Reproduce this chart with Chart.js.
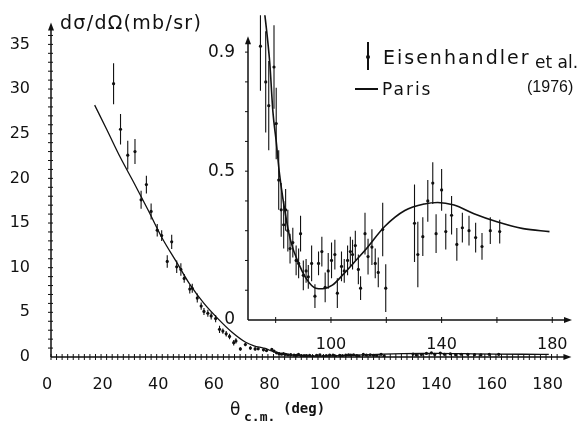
<!DOCTYPE html>
<html>
<head>
<meta charset="utf-8">
<script src="https://cdn.jsdelivr.net/npm/chart.js@4.4.1/dist/chart.umd.min.js"></script>
<style>
  html, body { margin: 0; padding: 0; background: #fff; }
  #wrap { position: relative; width: 577px; height: 423px; overflow: hidden; font-family: 'DejaVu Sans', sans-serif; color: #111; }
  #main { position: absolute; left: 0; top: 0; }
  #inset { position: absolute; left: 200px; top: 0; }
  .txt { position: absolute; white-space: nowrap; line-height: 1; }
  .mark { position: absolute; background: #111; }
</style>
</head>
<body>
<div id="wrap">
  <canvas id="main" width="577" height="423"></canvas>
  <canvas id="inset" width="377" height="350"></canvas>

  <div class="txt" style="left:60px;top:13px;font-size:19px;letter-spacing:1.3px">dσ/dΩ(mb/sr)</div>

  <div class="mark" style="left:367px;top:42px;width:1.5px;height:28px"></div>
  <div class="mark" style="left:366px;top:55px;width:4px;height:4px;border-radius:2px"></div>
  <div class="txt" style="left:383px;top:48px;font-size:19px;letter-spacing:2px">Eisenhandler</div>
  <div class="txt" style="left:535px;top:54px;font-size:17px">et al.</div>
  <div class="txt" style="left:527px;top:79px;font-size:16px;font-family:'Liberation Sans',sans-serif">(1976)</div>
  <div class="mark" style="left:355px;top:88px;width:23px;height:1.5px"></div>
  <div class="txt" style="left:382px;top:81px;font-size:17px;letter-spacing:2px">Paris</div>

  <div class="txt" style="left:230px;top:401px;font-size:17px">θ</div>
  <div class="txt" style="left:244px;top:410px;font-size:13px;font-weight:bold;font-family:'DejaVu Sans Mono',monospace">c.m.</div>
  <div class="txt" style="left:283px;top:401px;font-size:14px;font-weight:bold;font-family:'DejaVu Sans Mono',monospace">(deg)</div>
</div>

<script>
// Eisenhandler et al. (1976): c.m. angle (deg), dσ/dΩ (mb/sr), error
const angle = [22.5, 25.0, 27.6, 30.2, 32.4, 34.3, 36.0, 38.2, 39.8, 41.8, 43.4, 45.2, 46.7, 47.9, 49.9, 50.8,
  52.6, 54.0, 55.0, 56.4, 57.6, 59.2, 60.6, 61.8, 63.0, 64.2, 65.7, 66.5, 68.1, 69.9, 71.7, 73.4,
  74.5, 76.4, 77.5, 79.4, 80.2, 81.1, 82.0, 82.9, 83.6, 84.4, 85.2, 86.2, 87.4, 88.3, 89.0, 90.0,
  91.0, 91.8, 93.0, 94.2, 95.5, 96.7, 97.9, 99.0, 100.2, 101.4, 102.3, 103.8, 104.8, 106.0, 107.0,
  107.8, 108.8, 109.9, 110.7, 112.3, 113.4, 114.8, 116.0, 117.1, 118.7, 119.8,
  130.2, 131.4, 133.2, 135.0, 136.8, 138.0, 140.0, 141.5, 143.6, 145.5, 147.5, 149.9, 152.3, 154.6, 157.6, 161.0];
const dsdo = [30.6, 25.5, 22.6, 23.0, 17.6, 19.3, 16.3, 14.2, 13.6, 10.7, 12.9, 10.1, 9.8, 8.8, 7.6, 7.7,
  6.6, 5.7, 5.1, 4.9, 4.6, 4.3, 3.1, 2.9, 2.6, 2.3, 1.6, 1.8, 0.9, 1.4, 1.0, 0.9,
  0.92, 0.80, 0.72, 0.85, 0.66, 0.47, 0.37, 0.32, 0.37, 0.30, 0.24, 0.26, 0.20, 0.19, 0.29, 0.15,
  0.165, 0.145, 0.19, 0.08, 0.19, 0.23, 0.11, 0.165, 0.20, 0.22, 0.09, 0.18, 0.165, 0.20, 0.23,
  0.22, 0.25, 0.17, 0.107, 0.29, 0.213, 0.245, 0.19, 0.16, 0.304, 0.107,
  0.325, 0.22, 0.28, 0.40, 0.46, 0.29, 0.437, 0.297, 0.352, 0.254, 0.31, 0.30, 0.277, 0.247, 0.30, 0.297];
const err = [2.3, 1.7, 1.6, 1.4, 1.0, 1.0, 0.9, 0.7, 0.6, 0.7, 0.8, 0.7, 0.7, 0.5, 0.5, 0.5,
  0.5, 0.4, 0.4, 0.4, 0.4, 0.4, 0.4, 0.3, 0.3, 0.3, 0.3, 0.3, 0.2, 0.2, 0.2, 0.2,
  0.15, 0.17, 0.15, 0.14, 0.12, 0.10, 0.09, 0.08, 0.07, 0.07, 0.05, 0.05, 0.05, 0.05, 0.06, 0.05,
  0.04, 0.04, 0.06, 0.04, 0.04, 0.05, 0.05, 0.06, 0.06, 0.05, 0.05, 0.05, 0.04, 0.05, 0.05,
  0.05, 0.05, 0.05, 0.04, 0.07, 0.06, 0.06, 0.05, 0.05, 0.09, 0.08,
  0.13, 0.11, 0.065, 0.07, 0.07, 0.065, 0.07, 0.06, 0.065, 0.055, 0.05, 0.05, 0.05, 0.045, 0.045, 0.04];

// Paris potential prediction
const parisAngle = [15.7, 20, 25, 30, 35, 40, 45, 50, 55, 60, 65, 70, 73, 76.4, 77.9, 79.0, 80.2, 81.4, 84.0,
  85.6, 88.0, 91.0, 94.5, 96.9, 100.5, 104.6, 108.5, 112.4, 119.5, 126.7, 133.8, 138.6, 144.5, 151.7, 160, 169.5, 179];
const parisValue = [28.2, 25.5, 22.3, 19.4, 16.4, 13.3, 10.7, 8.1, 6.0, 4.3, 2.8, 1.65, 1.25, 1.0, 0.86, 0.70, 0.60, 0.49, 0.33,
  0.26, 0.197, 0.14, 0.107, 0.105, 0.117, 0.155, 0.195, 0.235, 0.315, 0.368, 0.39, 0.395, 0.386, 0.357, 0.33, 0.307, 0.297];

const mainXTicks = [0, 20, 40, 60, 80, 100, 120, 140, 160, 180];
const insetYLabels = [0, 0.5, 0.9];
const insetXLabels = [100, 140, 180];
const insetFrom = 74;

const INK = '#111';

const errorBars = {
  id: 'errorBars',
  afterDatasetsDraw(chart) {
    const { ctx, chartArea: a, scales: { x, y } } = chart;
    const ds = chart.data.datasets[0];
    ctx.save();
    ctx.beginPath();
    ctx.rect(a.left, a.top, a.right - a.left, a.bottom - a.top);
    ctx.clip();
    ctx.strokeStyle = INK;
    ctx.lineWidth = 1.1;
    ds.data.forEach((p, i) => {
      const e = ds.errors[i];
      const px = x.getPixelForValue(p.x);
      ctx.beginPath();
      ctx.moveTo(px, y.getPixelForValue(p.y - e));
      ctx.lineTo(px, y.getPixelForValue(p.y + e));
      ctx.stroke();
    });
    ctx.restore();
  }
};

// axis lines with arrow heads, plus the little tick marks
const axes = {
  id: 'axes',
  afterDraw(chart, args, o) {
    const { ctx, scales: { x, y } } = chart;
    const x0 = x.getPixelForValue(x.min), y0 = y.getPixelForValue(0);
    const yTop = y.getPixelForValue(o.yEnd), xEnd = x.getPixelForValue(x.max) - 1;
    ctx.save();
    ctx.strokeStyle = INK;
    ctx.fillStyle = INK;
    ctx.lineWidth = 1.5;
    ctx.beginPath();
    ctx.moveTo(x0, y0); ctx.lineTo(x0, yTop + 3);
    ctx.moveTo(x0, y0); ctx.lineTo(xEnd - 3, y0);
    ctx.stroke();
    ctx.beginPath();
    ctx.moveTo(x0, yTop - 4); ctx.lineTo(x0 - 3, yTop + 4); ctx.lineTo(x0 + 3, yTop + 4); ctx.closePath();
    ctx.moveTo(xEnd, y0); ctx.lineTo(xEnd - 8, y0 - 3); ctx.lineTo(xEnd - 8, y0 + 3); ctx.closePath();
    ctx.fill();
    ctx.lineWidth = 1;
    ctx.beginPath();
    for (let k = 0; ; k++) {
      const v = o.xFrom + k * o.xStep;
      if (v > o.xTo + 1e-9) break;
      const px = x.getPixelForValue(v);
      ctx.moveTo(px, y0 - o.xLen); ctx.lineTo(px, y0 + o.xLen);
    }
    for (let k = 1; ; k++) {
      const v = k * o.yStep;
      if (v > o.yTo + 1e-9) break;
      const py = y.getPixelForValue(v);
      ctx.moveTo(x0 - o.yLen, py); ctx.lineTo(x0 + o.yIn, py);
    }
    ctx.stroke();
    ctx.restore();
  }
};

const tickFont = { family: "'DejaVu Sans', sans-serif", size: 16 };

new Chart(document.getElementById('main'), {
  type: 'scatter',
  data: {
    datasets: [{
      label: 'Eisenhandler et al. (1976)',
      data: angle.map((a, i) => ({ x: a, y: dsdo[i] })),
      errors: err,
      pointRadius: 1.6,
      backgroundColor: INK,
      borderWidth: 0,
    }, {
      type: 'line',
      label: 'Paris',
      data: parisAngle.map((a, i) => ({ x: a, y: parisValue[i] })),
      borderColor: INK,
      borderWidth: 1.3,
      pointRadius: 0,
      cubicInterpolationMode: 'monotone',
      fill: false,
    }],
  },
  options: {
    responsive: false,
    animation: false,
    layout: { padding: { top: 20, right: 1, left: 0, bottom: 0 } },
    plugins: {
      legend: { display: false },
      tooltip: { enabled: false },
      axes: { yEnd: 37, xFrom: 0, xTo: 182, xStep: 2, xLen: 3, yStep: 1, yTo: 36, yLen: 3, yIn: 2 },
    },
    scales: {
      x: {
        type: 'linear', min: 0, max: 187.5,
        grid: { display: false }, border: { display: false },
        afterFit: s => { s.height = 66; },
        afterBuildTicks: s => { s.ticks = mainXTicks.map(v => ({ value: v })); },
        ticks: { padding: 10, labelOffset: -4, font: tickFont, color: INK, maxRotation: 0, autoSkip: false },
      },
      y: {
        min: 0, max: 37.44,
        grid: { display: false }, border: { display: false },
        afterFit: s => { s.width = 51; },
        ticks: { stepSize: 5, includeBounds: false, padding: 13, font: tickFont, color: INK },
      },
    },
  },
  plugins: [errorBars, axes],
});

const insetIdx = angle.map((a, i) => i).filter(i => angle[i] >= insetFrom);

new Chart(document.getElementById('inset'), {
  type: 'scatter',
  data: {
    datasets: [{
      label: 'Eisenhandler et al. (1976)',
      data: insetIdx.map(i => ({ x: angle[i], y: dsdo[i] })),
      errors: insetIdx.map(i => err[i]),
      pointRadius: 1.6,
      backgroundColor: INK,
      borderWidth: 0,
    }, {
      type: 'line',
      label: 'Paris',
      data: parisAngle.map((a, i) => ({ x: a, y: parisValue[i] })),
      borderColor: INK,
      borderWidth: 1.6,
      pointRadius: 0,
      cubicInterpolationMode: 'monotone',
      fill: false,
    }],
  },
  options: {
    responsive: false,
    animation: false,
    layout: { padding: 0 },
    plugins: {
      legend: { display: false },
      tooltip: { enabled: false },
      axes: { yEnd: 0.94, xFrom: 80, xTo: 180, xStep: 20, xLen: 3, yStep: 0.1, yTo: 0.9, yLen: 3, yIn: 0 },
    },
    scales: {
      x: {
        type: 'linear', min: 70, max: 187.5,
        grid: { display: false }, border: { display: false },
        afterFit: s => { s.height = 30; },
        ticks: {
          stepSize: 20, includeBounds: false, padding: 7, font: tickFont, color: INK, maxRotation: 0, autoSkip: false,
          callback: v => insetXLabels.includes(Math.round(v)) ? String(Math.round(v)) : '',
        },
      },
      y: {
        min: 0, max: 1.024,
        grid: { display: false }, border: { display: false },
        afterFit: s => { s.width = 48; },
        ticks: {
          stepSize: 0.1, includeBounds: false, padding: 5, font: { ...tickFont, size: 17 }, color: INK,
          callback: v => {
            const r = Math.round(v * 10) / 10;
            return insetYLabels.includes(r) ? String(r) : '';
          },
        },
      },
    },
  },
  plugins: [errorBars, axes],
});
</script>
</body>
</html>
